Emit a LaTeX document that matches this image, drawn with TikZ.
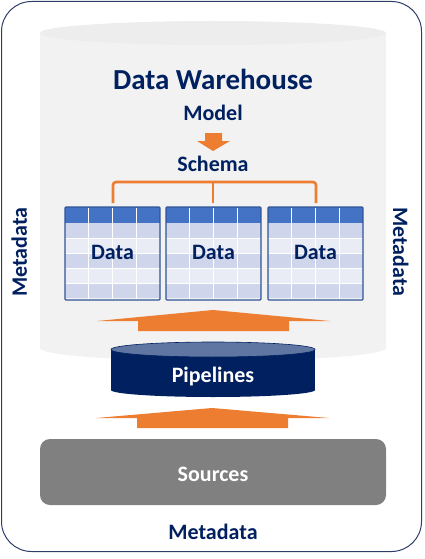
\documentclass[tikz,border=0pt]{standalone}
\usepackage{fontspec}
\setmainfont{Carlito}
\usetikzlibrary{positioning}

\definecolor{navy}{HTML}{002060}
\definecolor{navytop}{HTML}{6076A2}
\definecolor{orangeA}{HTML}{ED7D31}
\definecolor{whgray}{HTML}{F2F2F2}
\definecolor{whtop}{HTML}{EDEDED}
\definecolor{srcgray}{HTML}{808080}
\definecolor{tabhead}{HTML}{4472C4}
\definecolor{tabdark}{HTML}{CFD5EA}
\definecolor{tablight}{HTML}{E9EBF5}
\definecolor{tabline}{HTML}{2F5597}
\definecolor{framecol}{HTML}{2E3D6B}

\begin{document}
\begin{tikzpicture}[x=1pt,y=-1pt,
  lbl/.style={font=\fontsize{22}{26}\selectfont\bfseries,text=navy,anchor=base,inner sep=0pt},
  wlbl/.style={lbl,text=white},
  bigarrow/.style={fill=orangeA},
  bracket/.style={draw=orangeA,line width=2.6pt,rounded corners=3pt}]
\useasboundingbox (0,0) rectangle (424,559);

% frame
\draw[framecol,line width=1pt,rounded corners=30pt] (1.5,1.5) rectangle (421.5,551.5);

% warehouse cylinder
\fill[whgray] (40,33) rectangle (386,348);
\fill[whgray] (213,348) ellipse (173 and 13);
\fill[whtop] (213,33) ellipse (173 and 12);

\node[lbl,font=\fontsize{29}{34}\selectfont\bfseries] (dw) at (213,90) {Data Warehouse};
\node[lbl] (model)  at (213,121) {Model};
\node[lbl] (schema) at (213,171) {Schema};

% model -> schema
\fill[orangeA] (205,133) -- (222,133) -- (222,141) -- (230,141) -- (213,151)
  -- (197,141) -- (205,141) -- cycle;

% tables
\foreach \t/\x in {tab1/65,tab2/166,tab3/268}{
  \fill[tabhead] (\x,207) rectangle ++(95,16);
  \foreach \r in {0,2,4}
    \fill[tabdark] (\x,223+15*\r) rectangle ++(95,15);
  \foreach \r in {1,3}
    \fill[tablight] (\x,223+15*\r) rectangle ++(95,15);
  \foreach \c in {1,2,3}
    \draw[white,line width=0.8pt] (\x+23.75*\c,208) -- ++(0,91);
  \foreach \r in {1,...,4}
    \draw[white,line width=0.6pt] (\x,223+15*\r) -- ++(95,0);
  \draw[tabline,line width=1.2pt,rounded corners=1pt] (\x,207) rectangle ++(95,93);
  \node[lbl] (\t) at (\x+47.5,259) {Data};
}

% schema bracket
\coordinate (bl) at (113,203);
\coordinate (bm) at (213,203);
\coordinate (br) at (316,203);
\draw[bracket] (bl) -- (113,182) -- (316,182) -- (br);
\draw[bracket] (213,182) -- (bm);

% up arrows
\fill[bigarrow] (213,310) -- (330,321) -- (289,321) -- (289,331) -- (138,331)
  -- (138,321) -- (97,321) -- cycle;
\fill[bigarrow] (212,408) -- (329,418) -- (288,418) -- (288,428) -- (137,428)
  -- (137,418) -- (96,418) -- cycle;

% pipelines
\fill[navy] (111,349.5) rectangle (315,390);
\fill[navy] (213,390) ellipse (102 and 7);
\filldraw[fill=navytop,draw=navy,line width=0.6pt] (213,349.5) ellipse (102 and 7.5);
\node[wlbl] (pipe) at (213,382) {Pipelines};

% sources
\fill[srcgray,rounded corners=10pt] (40,439) rectangle (386,505);
\node[wlbl] (src) at (213,481) {Sources};

% metadata
\node[lbl] (mbot)   at (213,539) {Metadata};
\node[lbl,rotate=90]  (mleft)  at (27,252)  {Metadata};
\node[lbl,rotate=-90] (mright) at (393,252) {Metadata};
\end{tikzpicture}
\end{document}
